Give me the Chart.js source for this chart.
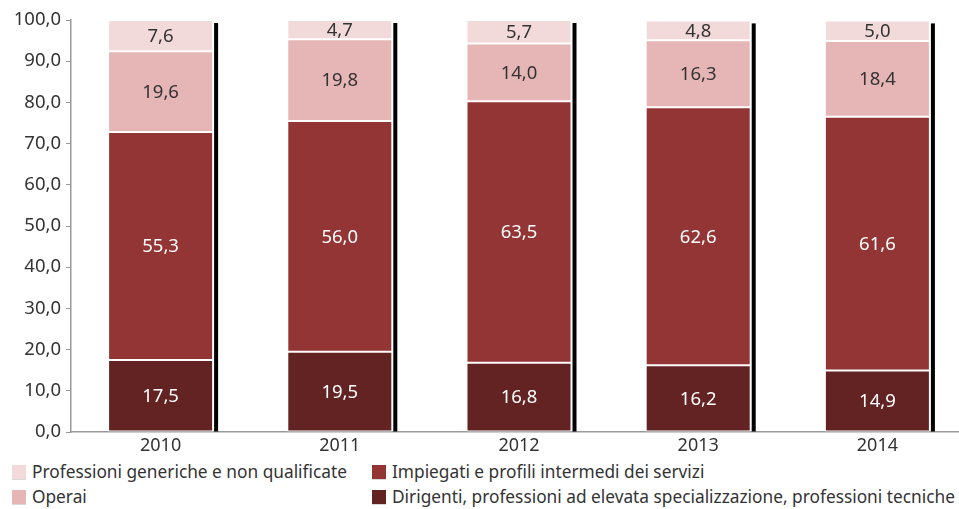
<!DOCTYPE html>
<html>
<head>
<meta charset="utf-8">
<script src="https://cdn.jsdelivr.net/npm/chart.js@4"></script>
<style>
  html, body { margin: 0; padding: 0; background: #fff; overflow: hidden; }
  body { width: 959px; height: 509px; position: relative; font-family: "Noto Sans", sans-serif; color: #333; }
  #wrap { position: absolute; left: 0; top: 0; width: 967px; height: 460px; }
  .legend { position: absolute; left: 0; top: 460px; font-size: 17.3px; }
  .item { position: absolute; white-space: nowrap; line-height: 20px; }
  .item span.box { position: absolute; left: 0; top: 3px; width: 14px; height: 14px; box-shadow: 0 1px 0 rgba(0,0,0,0.15); }
  .item span.txt { position: absolute; left: 20px; top: 0; }
</style>
</head>
<body>
<div id="wrap"><canvas id="c"></canvas></div>
<div class="legend" id="legend"></div>
<script>
// categories and series (bottom to top of each stack)
const years = ['2010', '2011', '2012', '2013', '2014'];
const dirigenti = [17.5, 19.5, 16.8, 16.2, 14.9];
const impiegati = [55.3, 56.0, 63.5, 62.6, 61.6];
const operai = [19.6, 19.8, 14.0, 16.3, 18.4];
const generiche = [7.6, 4.7, 5.7, 4.8, 5.0];
const yTicks = [0, 10, 20, 30, 40, 50, 60, 70, 80, 90, 100];

const fontFamily = '"Noto Sans", sans-serif';
const fmt = v => v.toFixed(1).replace('.', ',');

const series = [
  { label: 'Dirigenti, professioni ad elevata specializzazione, professioni tecniche', data: dirigenti, color: '#632323', text: '#ffffff' },
  { label: 'Impiegati e profili intermedi dei servizi', data: impiegati, color: '#943535', text: '#ffffff' },
  { label: 'Operai', data: operai, color: '#e6b5b6', text: '#333333' },
  { label: 'Professioni generiche e non qualificate', data: generiche, color: '#f2dadb', text: '#333333' }
];

// black shadow to the right of each stacked bar
const shadowPlugin = {
  id: 'barShadow',
  beforeDatasetsDraw(chart) {
    const ctx = chart.ctx;
    const first = chart.getDatasetMeta(0).data;
    const last = chart.getDatasetMeta(chart.data.datasets.length - 1).data;
    ctx.save();
    ctx.fillStyle = '#000';
    first.forEach((el, i) => {
      const right = el.x + el.width / 2;
      const top = last[i].y;
      const bottom = el.base;
      ctx.fillRect(right + 1, top + 3, 4, bottom - top - 3);
    });
    ctx.restore();
  }
};

// values written inside the segments
const labelPlugin = {
  id: 'segLabels',
  afterDatasetsDraw(chart) {
    const ctx = chart.ctx;
    ctx.save();
    ctx.font = '18.5px ' + fontFamily;
    ctx.textAlign = 'center';
    ctx.textBaseline = 'middle';
    chart.data.datasets.forEach((ds, di) => {
      chart.getDatasetMeta(di).data.forEach((el, i) => {
        ctx.fillStyle = series[di].text;
        ctx.fillText(fmt(ds.data[i]), el.x, (el.y + el.base) / 2 + 1);
      });
    });
    ctx.restore();
  }
};

new Chart(document.getElementById('c'), {
  type: 'bar',
  data: {
    labels: years,
    datasets: series.map(s => ({
      label: s.label,
      data: s.data,
      backgroundColor: s.color,
      borderColor: '#ffffff',
      borderWidth: 1,
      borderSkipped: false,
      categoryPercentage: 1,
      barPercentage: 0.586
    }))
  },
  options: {
    responsive: true,
    maintainAspectRatio: false,
    animation: false,
    layout: { padding: { top: 20, left: 0, right: 0, bottom: 0 } },
    plugins: { legend: { display: false }, tooltip: { enabled: false } },
    scales: {
      x: {
        stacked: true,
        grid: { display: false, drawTicks: false },
        border: { color: '#999', width: 1.5 },
        ticks: { color: '#333', font: { family: fontFamily, size: 18 }, padding: 3 },
        afterFit(scale) { scale.height = 28; }
      },
      y: {
        stacked: true,
        min: 0,
        max: 100,
        afterBuildTicks(scale) { scale.ticks = yTicks.map(v => ({ value: v })); },
        grid: { display: true, drawOnChartArea: false, drawTicks: true, tickLength: 5, color: '#999' },
        border: { color: '#999', width: 1.5 },
        ticks: { color: '#333', font: { family: fontFamily, size: 18.5 }, padding: 5, callback: v => fmt(v) },
        afterFit(scale) { scale.width = 71; }
      }
    }
  },
  plugins: [shadowPlugin, labelPlugin]
});

// legend laid out in two columns like the original
const legendPos = [
  { s: 3, left: 12, top: 2 },
  { s: 1, left: 372, top: 2 },
  { s: 2, left: 12, top: 27 },
  { s: 0, left: 372, top: 27 }
];
const legend = document.getElementById('legend');
legendPos.forEach(p => {
  const d = document.createElement('div');
  d.className = 'item';
  d.style.left = p.left + 'px';
  d.style.top = p.top + 'px';
  d.innerHTML = '<span class="box" style="background:' + series[p.s].color + '"></span><span class="txt">' + series[p.s].label + '</span>';
  legend.appendChild(d);
});
</script>
</body>
</html>
